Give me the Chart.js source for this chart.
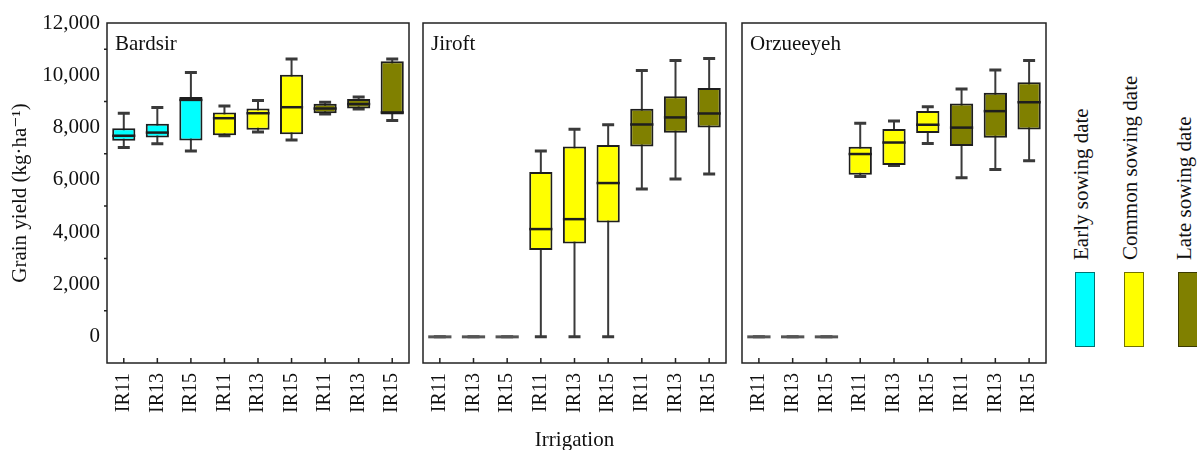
<!DOCTYPE html>
<html><head><meta charset="utf-8">
<script src="https://cdn.jsdelivr.net/npm/chart.js@4/dist/chart.umd.min.js"></script>
<style>
body{margin:0;background:#fff;width:1197px;height:450px;overflow:hidden;position:relative;font-family:"Liberation Serif","DejaVu Serif",serif;}
.pane{position:absolute;top:0;height:450px;}
.sw{position:absolute;top:272px;width:20px;height:75px;box-sizing:border-box;border:1.5px solid rgba(0,0,0,0.55);}
.lt{position:absolute;top:260px;transform-origin:0 0;transform:rotate(-90deg);white-space:nowrap;font-size:21px;line-height:21px;color:#111;}
</style></head><body>
<div class="pane" id="p1" style="left:0;width:413px"><canvas id="c1"></canvas></div>
<div class="pane" id="p2" style="left:418px;width:313px"><canvas id="c2"></canvas></div>
<div class="pane" id="p3" style="left:737px;width:314px"><canvas id="c3"></canvas></div>
<div id="legend"></div>
<script>
const FONT = "'Liberation Serif', 'DejaVu Serif', serif";
const categories = ['IR11','IR13','IR15','IR11','IR13','IR15','IR11','IR13','IR15'];
const sowingGroups = ['Early sowing date','Common sowing date','Late sowing date'];
const groupColors = ['#00FFFF','#FFFF00','#808000'];
const yTicks = [0,2000,4000,6000,8000,10000,12000];
const panelNames = ['Bardsir','Jiroft','Orzueeyeh'];

const bardsirMin = [7240,7380,7110,7690,7830,7530,8520,8710,8270];
const bardsirQ1  = [7500,7620,7510,7710,7920,7750,8550,8730,8500];
const bardsirMed = [7690,7810,9060,8360,8550,8780,8730,8900,8580];
const bardsirQ3  = [7980,8150,9170,8580,8730,10020,8910,9090,10540];
const bardsirMax = [8550,8770,10110,8830,9040,10620,8970,9170,10620];

const jiroftMin = [0,0,0,0,0,0,5650,6040,6230];
const jiroftQ1  = [0,0,0,3320,3570,4370,7280,7800,8000];
const jiroftMed = [0,0,0,4120,4500,5880,8120,8390,8540];
const jiroftQ3  = [0,0,0,6300,7280,7340,8720,9200,9510];
const jiroftMax = [0,0,0,7110,7940,8110,10180,10570,10640];

const orzMin = [0,0,0,6130,6550,7390,6080,6400,6730];
const orzQ1  = [0,0,0,6200,6570,7790,7300,7610,7930];
const orzMed = [0,0,0,6990,7430,8110,8000,8630,8970];
const orzQ3  = [0,0,0,7270,7950,8640,8920,9330,9730];
const orzMax = [0,0,0,8170,8250,8800,9480,10200,10570];

function makeChart(id, name, mins, q1s, meds, q3s, maxs, o){
  const extras = {
    id:'boxExtras',
    beforeDatasetsDraw(chart){
      const {ctx, scales:{y}} = chart;
      const meta = chart.getDatasetMeta(0);
      ctx.save();
      ctx.strokeStyle = '#3a3a3a';
      mins.forEach((mn,i)=>{
        const px = meta.data[i].x;
        const y0 = y.getPixelForValue(mn), y1 = y.getPixelForValue(maxs[i]);
        if (maxs[i] !== mn){
          ctx.lineWidth = 2;
          ctx.beginPath(); ctx.moveTo(px,y0); ctx.lineTo(px,y1); ctx.stroke();
        }
        ctx.lineWidth = 3;
        ctx.beginPath();
        ctx.moveTo(px-6,y0); ctx.lineTo(px+6,y0);
        ctx.moveTo(px-6,y1); ctx.lineTo(px+6,y1);
        ctx.stroke();
      });
      ctx.restore();
    },
    afterDatasetsDraw(chart){
      const {ctx, chartArea:a, scales:{x,y}} = chart;
      const meta = chart.getDatasetMeta(0);
      ctx.save();
      meds.forEach((m,i)=>{
        const el = meta.data[i];
        const py = y.getPixelForValue(m);
        const zero = maxs[i] === mins[i];
        ctx.strokeStyle = zero ? '#555' : '#1e1e1e';
        ctx.lineWidth = zero ? 3 : 2.5;
        ctx.beginPath(); ctx.moveTo(el.x-el.width/2, py); ctx.lineTo(el.x+el.width/2, py); ctx.stroke();
      });
      ctx.strokeStyle = '#222'; ctx.lineWidth = 1.5;
      ctx.strokeRect(a.left, a.top, a.right-a.left, a.bottom-a.top);
      ctx.beginPath();
      categories.forEach((c,i)=>{ const px = x.getPixelForValue(i); ctx.moveTo(px,a.bottom); ctx.lineTo(px,a.bottom-5); });
      if (o.minor){
        for (let v=1000; v<12000; v+=2000){ const py=y.getPixelForValue(v); ctx.moveTo(a.left,py); ctx.lineTo(a.left-3,py); }
      }
      ctx.stroke();
      ctx.fillStyle = '#111';
      ctx.font = "21px " + FONT;
      ctx.textBaseline = 'alphabetic'; ctx.textAlign = 'left';
      ctx.fillText(name, a.left+8, a.top+27);
      ctx.restore();
    }
  };
  return new Chart(document.getElementById(id), {
    type:'bar',
    data:{labels: categories, datasets:[{
      label: name,
      data: q1s.map((q,i)=>[q, q3s[i]]),
      backgroundColor: categories.map((c,i)=>groupColors[Math.floor(i/3)]),
      borderColor:'#1e1e1e', borderWidth:2, borderSkipped:false,
      barPercentage:0.69, categoryPercentage:1
    }]},
    options:{
      animation:false, responsive:true, maintainAspectRatio:false,
      layout:{padding:{left:o.padL, right:o.padR, top:23, bottom:0}},
      plugins:{legend:{display:false}, tooltip:{enabled:false}},
      scales:{
        x:{
          grid:{display:false, drawTicks:false}, border:{display:false},
          ticks:{autoSkip:false, minRotation:90, maxRotation:90, padding:10, color:'#111', font:{family:FONT, size:20}},
          title:{display: !!o.xTitle, text: o.xTitle || '', color:'#111', padding:{top:0,bottom:0}, font:{family:FONT, size:21, lineHeight:0.95}},
          afterFit(s){ s.height = 87; s.paddingLeft = 0; s.paddingRight = 0; }
        },
        y:{
          display: o.showY, min:-1000, max:12000,
          grid:{display:false, drawTicks:false}, border:{display:false},
          afterBuildTicks(s){ s.ticks = yTicks.map(v=>({value:v})); },
          ticks:{padding:7, color:'#111', font:{family:FONT, size:21}, callback:v=>v.toLocaleString('en-US')},
          title:{display: o.showY, text:'Grain yield (kg\u00b7ha\u207b\u00b9)', color:'#111', padding:{top:8,bottom:0}, font:{family:FONT, size:21}},
          afterFit(s){ if (o.showY) s.width = 107; s.paddingTop = 0; s.paddingBottom = 0; }
        }
      }
    },
    plugins:[extras]
  });
}

makeChart('c1', panelNames[0], bardsirMin, bardsirQ1, bardsirMed, bardsirQ3, bardsirMax, {padL:0, padR:4, showY:true, minor:true});
makeChart('c2', panelNames[1], jiroftMin, jiroftQ1, jiroftMed, jiroftQ3, jiroftMax, {padL:5, padR:5, showY:false, xTitle:'Irrigation'});
makeChart('c3', panelNames[2], orzMin, orzQ1, orzMed, orzQ3, orzMax, {padL:5, padR:5, showY:false});

const legendX = [1075, 1124, 1178];
const lg = document.getElementById('legend');
sowingGroups.forEach((g,i)=>{
  const s = document.createElement('div'); s.className='sw';
  s.style.left = legendX[i]+'px'; s.style.background = groupColors[i];
  lg.appendChild(s);
  const t = document.createElement('div'); t.className='lt';
  t.style.left = (legendX[i]-4)+'px'; t.textContent = g;
  lg.appendChild(t);
});
</script>
</body></html>
